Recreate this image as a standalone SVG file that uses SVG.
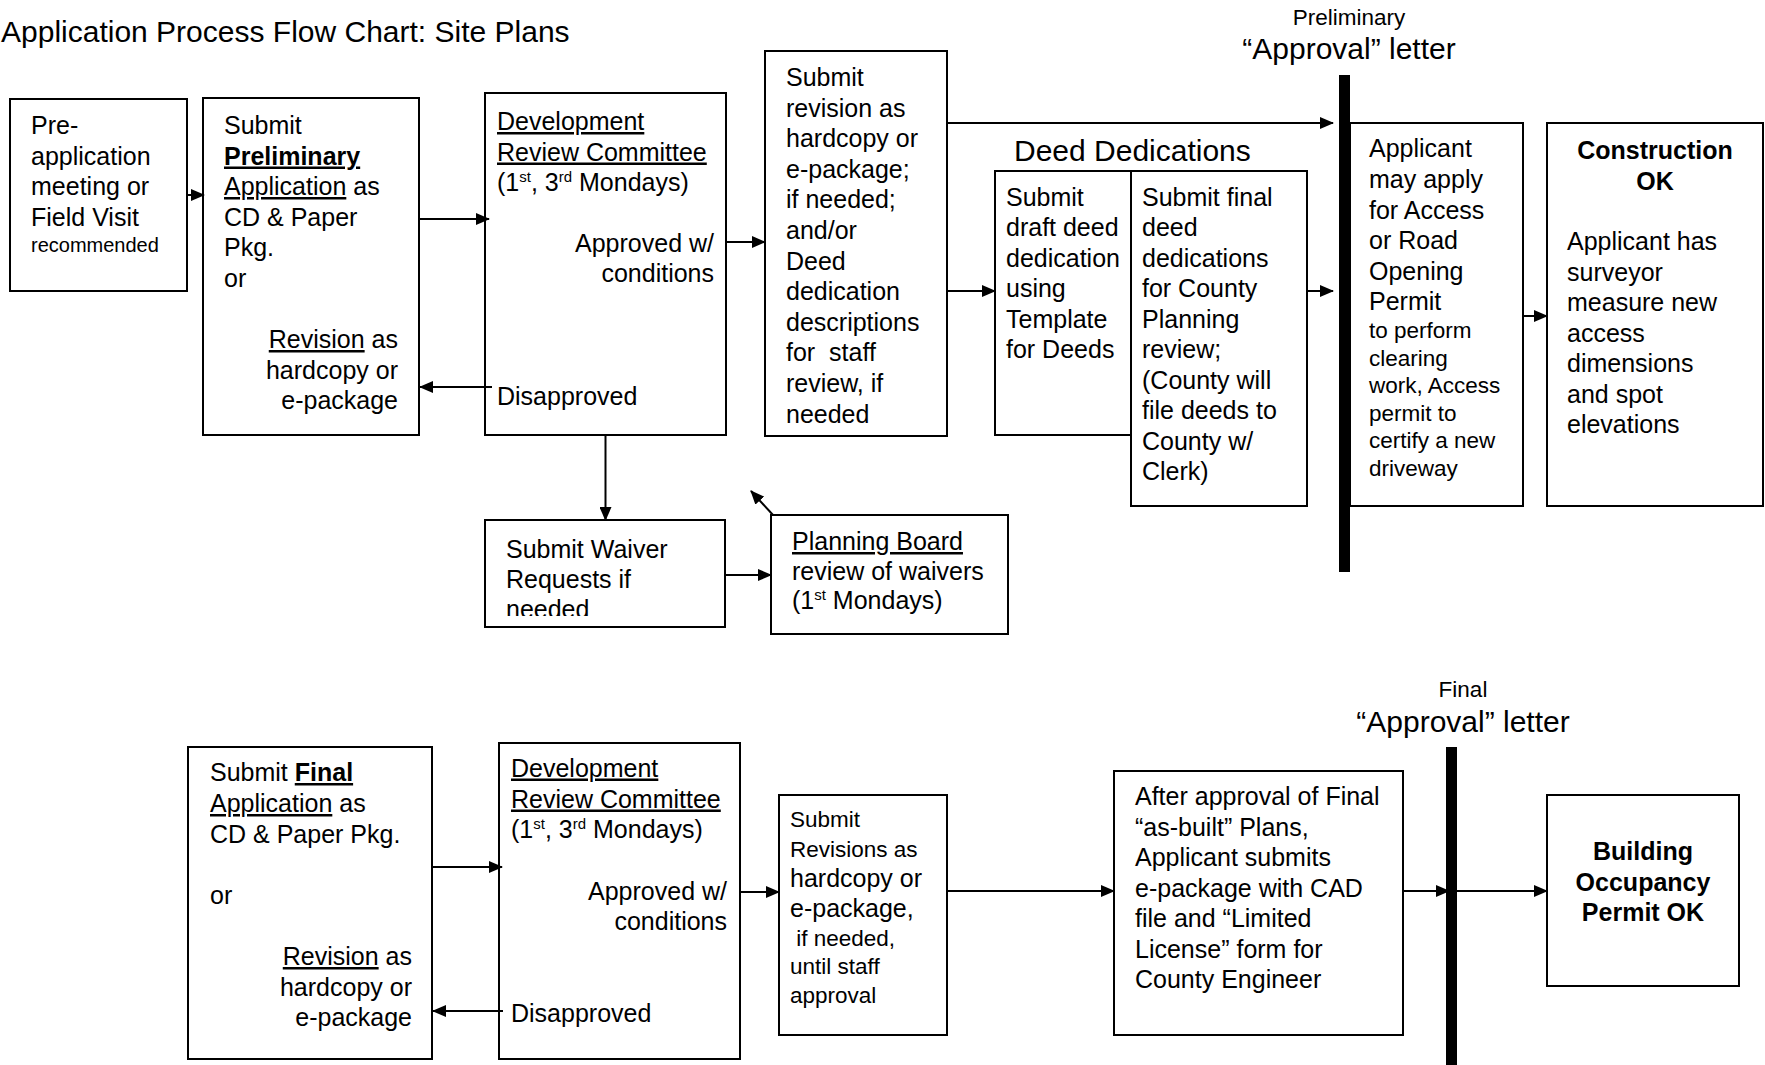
<svg xmlns="http://www.w3.org/2000/svg" width="1765" height="1065" viewBox="0 0 1765 1065">
<style>
text{font-family:"Liberation Sans",Arial,sans-serif;font-size:25px;fill:#000}
.box{fill:#fff;stroke:#000;stroke-width:2}
.sm{font-size:22.5px}
.xs{font-size:20px}
.big{font-size:30px}
.b{font-weight:bold}
.u{text-decoration:underline}
.e{text-anchor:end}
.m{text-anchor:middle}
.conn line{stroke:#000;stroke-width:2;fill:none;marker-end:url(#ah)}
.bar{fill:#000}
</style>
<defs>
<marker id="ah" markerUnits="userSpaceOnUse" markerWidth="14" markerHeight="12" viewBox="0 0 14 12" refX="13" refY="6" orient="auto">
<path d="M0,0 L14,6 L0,12 Z" fill="#000"/>
</marker>
<clipPath id="wclip"><rect x="480" y="520" width="250" height="96"/></clipPath>
</defs>
<rect width="1765" height="1065" fill="#fff"/>

<text class="big" x="1" y="42">Application Process Flow Chart: Site Plans</text>

<g id="preapp">
<rect class="box" x="10" y="99" width="177" height="192"/>
<text x="31" y="134">Pre-</text>
<text x="31" y="164.5">application</text>
<text x="31" y="195">meeting or</text>
<text x="31" y="225.5">Field Visit</text>
<text class="xs" x="31" y="252">recommended</text>
</g>

<g id="submit-prelim">
<rect class="box" x="203" y="98" width="216" height="337"/>
<text x="224" y="134">Submit</text>
<text x="224" y="164.5" class="b u">Preliminary</text>
<text x="224" y="195"><tspan class="u">Application</tspan> as</text>
<text x="224" y="225.5">CD &amp; Paper</text>
<text x="224" y="256">Pkg.</text>
<text x="224" y="286.5">or</text>
<text class="e" x="398" y="348"><tspan class="u">Revision</tspan> as</text>
<text class="e" x="398" y="378.5">hardcopy or</text>
<text class="e" x="398" y="409">e-package</text>
</g>

<g id="drc1">
<rect class="box" x="485" y="93" width="241" height="342"/>
<text x="497" y="130" class="u">Development</text>
<text x="497" y="160.5" class="u">Review Committee</text>
<text x="497" y="190.5">(1<tspan font-size="15" dy="-9">st</tspan><tspan dy="9">, 3</tspan><tspan font-size="15" dy="-9">rd</tspan><tspan dy="9"> Mondays)</tspan></text>
<text class="e" x="714" y="252">Approved w/</text>
<text class="e" x="714" y="281.5">conditions</text>
<text x="497" y="405">Disapproved</text>
</g>

<g id="revision1">
<rect class="box" x="765" y="51" width="182" height="385"/>
<text x="786" y="86">Submit</text>
<text x="786" y="116.6">revision as</text>
<text x="786" y="147.2">hardcopy or</text>
<text x="786" y="177.8">e-package;</text>
<text x="786" y="208.4">if needed;</text>
<text x="786" y="239">and/or</text>
<text x="786" y="269.6">Deed</text>
<text x="786" y="300.2">dedication</text>
<text x="786" y="330.8">descriptions</text>
<text x="786" y="361.4" xml:space="preserve">for  staff</text>
<text x="786" y="392">review, if</text>
<text x="786" y="422.6">needed</text>
</g>

<g id="deed-dedications">
<text class="big" x="1014" y="161">Deed Dedications</text>
</g>

<g id="deed-draft">
<rect class="box" x="995" y="171" width="136" height="264"/>
<text x="1006" y="205.5">Submit</text>
<text x="1006" y="236">draft deed</text>
<text x="1006" y="266.5">dedication</text>
<text x="1006" y="297">using</text>
<text x="1006" y="327.5">Template</text>
<text x="1006" y="358">for Deeds</text>
</g>

<g id="deed-final">
<rect class="box" x="1131" y="171" width="176" height="335"/>
<text x="1142" y="205.5">Submit final</text>
<text x="1142" y="236">deed</text>
<text x="1142" y="266.5">dedications</text>
<text x="1142" y="297">for County</text>
<text x="1142" y="327.5">Planning</text>
<text x="1142" y="358">review;</text>
<text x="1142" y="388.5">(County will</text>
<text x="1142" y="419">file deeds to</text>
<text x="1142" y="449.5">County w/</text>
<text x="1142" y="480">Clerk)</text>
</g>

<g id="prelim-approval">
<text class="sm m" x="1349" y="25">Preliminary</text>
<text class="big m" x="1349" y="59">“Approval” letter</text>
<rect class="bar" x="1339" y="75" width="11" height="497"/>
</g>

<g id="access-permit">
<rect class="box" x="1350" y="123" width="173" height="383"/>
<text x="1369" y="157">Applicant</text>
<text x="1369" y="188">may apply</text>
<text x="1369" y="218.5">for Access</text>
<text x="1369" y="249">or Road</text>
<text x="1369" y="279.5">Opening</text>
<text x="1369" y="310">Permit</text>
<text class="sm" x="1369" y="338">to perform</text>
<text class="sm" x="1369" y="365.5">clearing</text>
<text class="sm" x="1369" y="393">work, Access</text>
<text class="sm" x="1369" y="420.5">permit to</text>
<text class="sm" x="1369" y="448">certify a new</text>
<text class="sm" x="1369" y="475.5">driveway</text>
</g>

<g id="construction-ok">
<rect class="box" x="1547" y="123" width="216" height="383"/>
<text class="b m" x="1655" y="159">Construction</text>
<text class="b m" x="1655" y="189.5">OK</text>
<text x="1567" y="250">Applicant has</text>
<text x="1567" y="280.5">surveyor</text>
<text x="1567" y="311">measure new</text>
<text x="1567" y="341.5">access</text>
<text x="1567" y="372">dimensions</text>
<text x="1567" y="402.5">and spot</text>
<text x="1567" y="433">elevations</text>
</g>

<g id="waiver">
<rect class="box" x="485" y="520" width="240" height="107"/>
<g clip-path="url(#wclip)">
<text x="506" y="558">Submit Waiver</text>
<text x="506" y="587.5">Requests if</text>
<text x="506" y="618">needed</text>
</g>
</g>

<g id="planning-board">
<rect class="box" x="771" y="515" width="237" height="119"/>
<text x="792" y="550" class="u">Planning Board</text>
<text x="792" y="579.5">review of waivers</text>
<text x="792" y="609">(1<tspan font-size="15" dy="-9">st</tspan><tspan dy="9"> Mondays)</tspan></text>
</g>

<g id="submit-final">
<rect class="box" x="188" y="747" width="244" height="312"/>
<text x="210" y="781">Submit <tspan class="b u">Final</tspan></text>
<text x="210" y="812"><tspan class="u">Application</tspan> as</text>
<text x="210" y="842.5">CD &amp; Paper Pkg.</text>
<text x="210" y="904">or</text>
<text class="e" x="412" y="965"><tspan class="u">Revision</tspan> as</text>
<text class="e" x="412" y="995.5">hardcopy or</text>
<text class="e" x="412" y="1026">e-package</text>
</g>

<g id="drc2">
<rect class="box" x="499" y="743" width="241" height="316"/>
<text x="511" y="776.5" class="u">Development</text>
<text x="511" y="807.5" class="u">Review Committee</text>
<text x="511" y="838">(1<tspan font-size="15" dy="-9">st</tspan><tspan dy="9">, 3</tspan><tspan font-size="15" dy="-9">rd</tspan><tspan dy="9"> Mondays)</tspan></text>
<text class="e" x="727" y="900">Approved w/</text>
<text class="e" x="727" y="929.5">conditions</text>
<text x="511" y="1021.5">Disapproved</text>
</g>

<g id="revisions2">
<rect class="box" x="779" y="795" width="168" height="240"/>
<text class="sm" x="790" y="826.5">Submit</text>
<text class="sm" x="790" y="857">Revisions as</text>
<text x="790" y="887">hardcopy or</text>
<text x="790" y="916.5">e-package,</text>
<text class="sm" x="790" y="945.5" xml:space="preserve"> if needed,</text>
<text class="sm" x="790" y="974">until staff</text>
<text class="sm" x="790" y="1002.5">approval</text>
</g>

<g id="as-built">
<rect class="box" x="1114" y="771" width="289" height="264"/>
<text x="1135" y="805">After approval of Final</text>
<text x="1135" y="835.5">“as-built” Plans,</text>
<text x="1135" y="866">Applicant submits</text>
<text x="1135" y="896.5">e-package with CAD</text>
<text x="1135" y="927">file and “Limited</text>
<text x="1135" y="957.5">License” form for</text>
<text x="1135" y="988">County Engineer</text>
</g>

<g id="final-approval">
<text class="sm m" x="1463" y="697">Final</text>
<text class="big m" x="1463" y="732">“Approval” letter</text>
<rect class="bar" x="1446" y="747" width="11" height="318"/>
</g>

<g id="building-ok">
<rect class="box" x="1547" y="795" width="192" height="191"/>
<text class="b m" x="1643" y="860">Building</text>
<text class="b m" x="1643" y="890.5">Occupancy</text>
<text class="b m" x="1643" y="921">Permit OK</text>
</g>

<g class="conn" id="connectors">
<line x1="187" y1="195" x2="204" y2="195"/>
<line x1="419" y1="219" x2="489" y2="219"/>
<line x1="492" y1="387" x2="420" y2="387"/>
<line x1="726" y1="242" x2="765" y2="242"/>
<line x1="947" y1="123" x2="1333" y2="123"/>
<line x1="947" y1="291" x2="995" y2="291"/>
<line x1="1307" y1="291" x2="1333" y2="291"/>
<line x1="1523" y1="316" x2="1547" y2="316"/>
<line x1="605.5" y1="435" x2="605.5" y2="520"/>
<line x1="725" y1="575" x2="771" y2="575"/>
<line x1="773" y1="515" x2="751" y2="491"/>
<line x1="432" y1="867" x2="502" y2="867"/>
<line x1="503" y1="1011" x2="433" y2="1011"/>
<line x1="740" y1="892" x2="779" y2="892"/>
<line x1="947" y1="891" x2="1114" y2="891"/>
<line x1="1403" y1="891" x2="1449" y2="891"/>
<line x1="1457" y1="891" x2="1547" y2="891"/>
</g>
</svg>
